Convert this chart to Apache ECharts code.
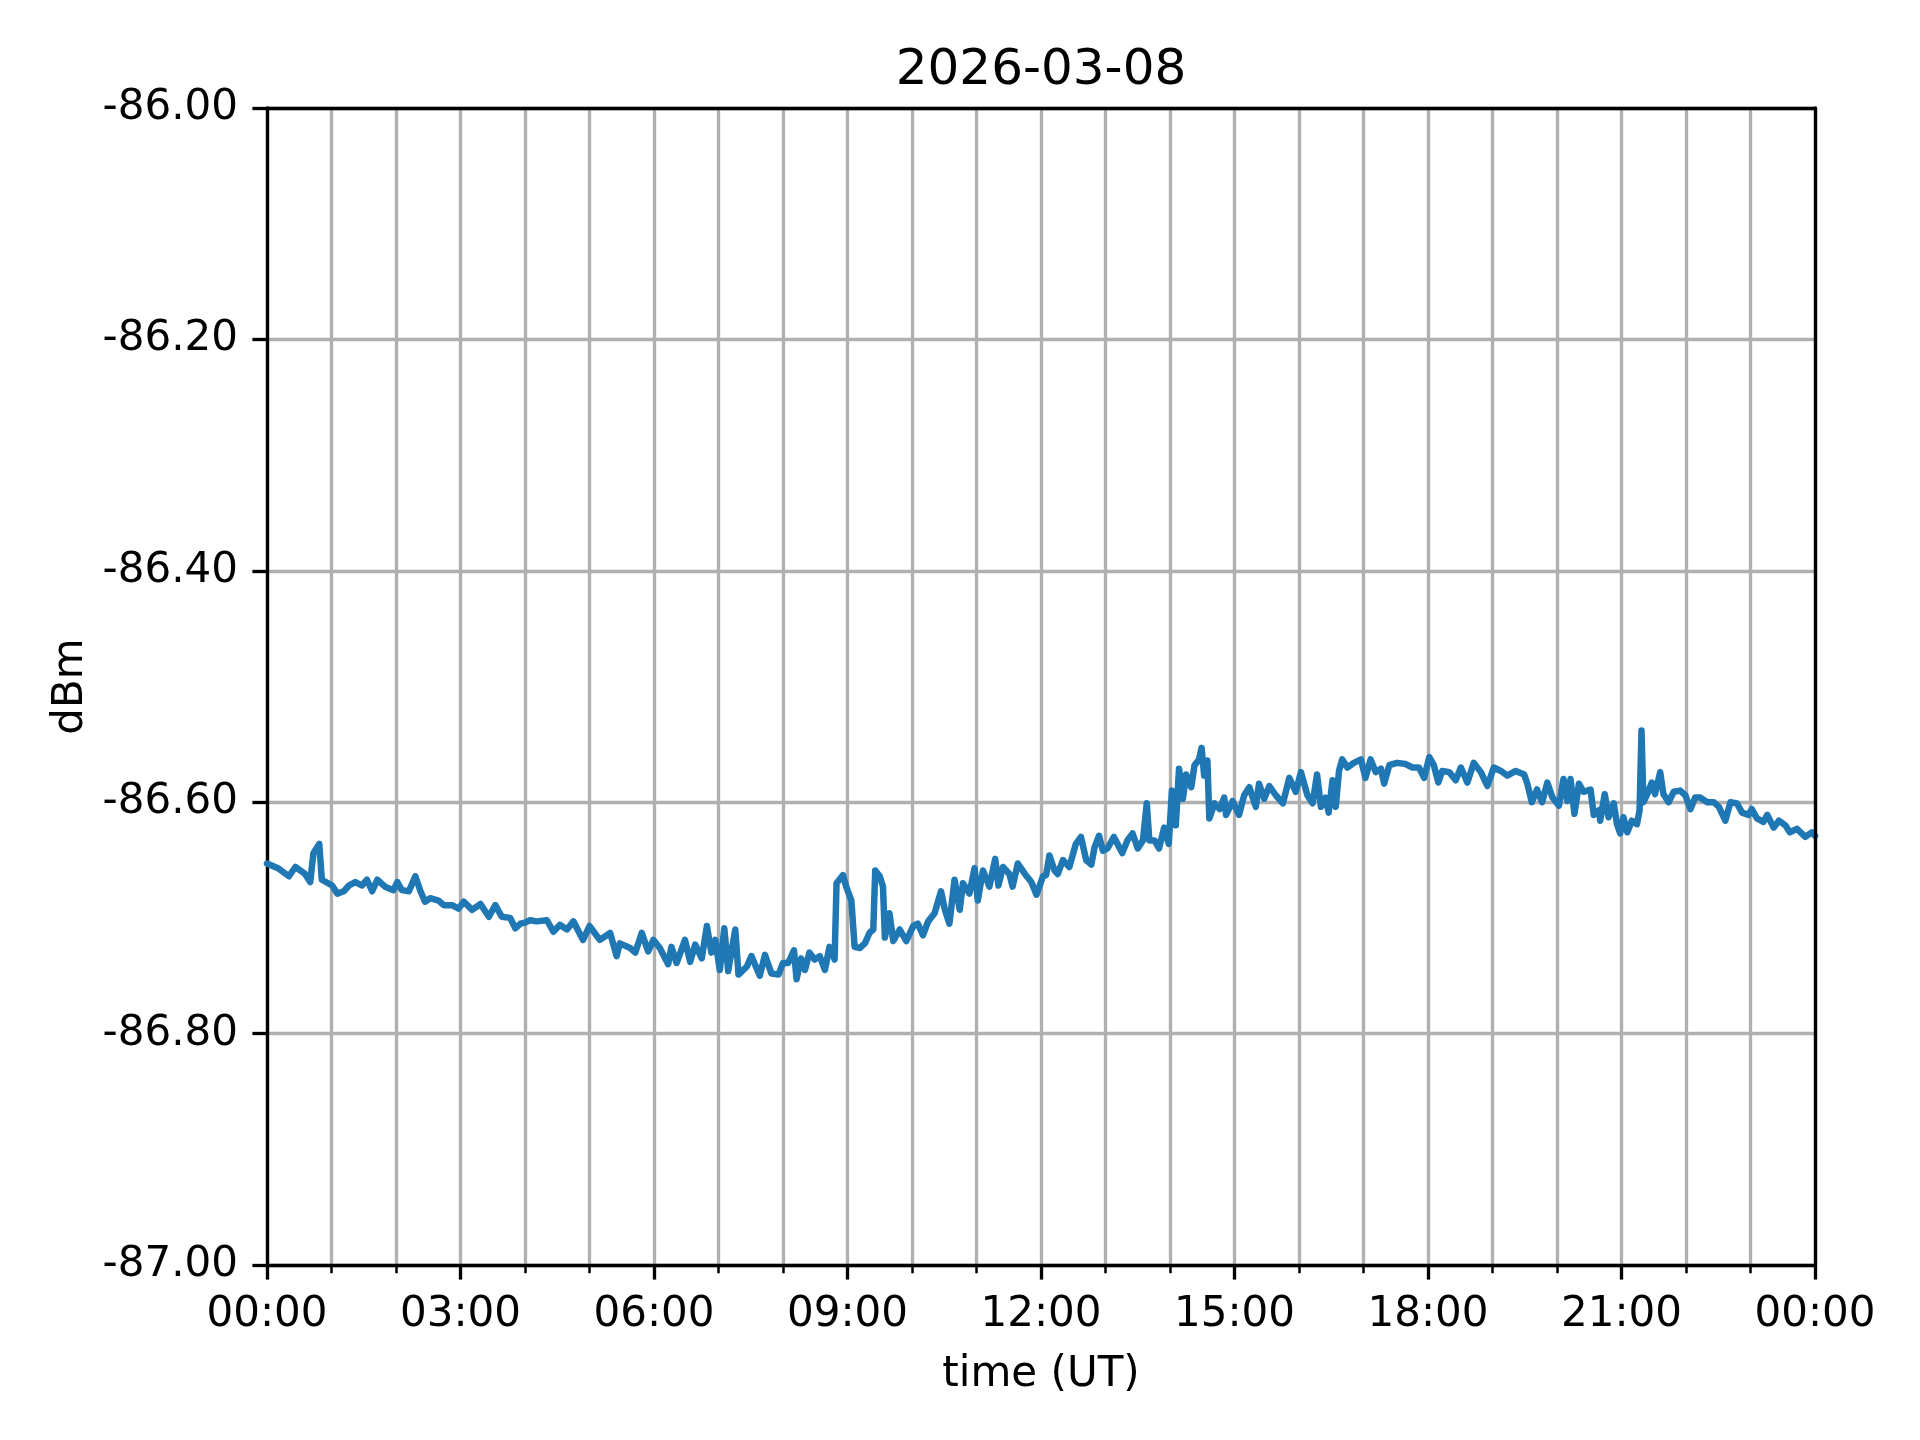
<!DOCTYPE html>
<html>
<head>
<meta charset="utf-8">
<script src="https://cdn.jsdelivr.net/npm/echarts@6/dist/echarts.min.js"></script>
<style>html,body{margin:0;padding:0;background:#fff}#c{width:1920px;height:1440px}</style>
</head>
<body>
<div id="c"></div>
<script>
const chartTitle = '2026-03-08';
const xName = 'time (UT)';
const yName = 'dBm';
const xTickLabels = ['00:00','03:00','06:00','09:00','12:00','15:00','18:00','21:00','00:00'];
const timeHours = [
0.00,0.17,0.34,0.44,0.59,0.67,0.72,0.81,0.85,1.01,1.09,1.19,1.27,1.37,1.47,1.55,1.63,1.71,1.83,1.96,
2.02,2.09,2.20,2.30,2.38,2.45,2.53,2.66,2.74,2.87,2.97,3.05,3.18,3.31,3.44,3.54,3.64,3.77,3.85,3.93,
4.00,4.08,4.18,4.34,4.44,4.54,4.65,4.75,4.90,5.00,5.16,5.32,5.42,5.47,5.63,5.71,5.81,5.91,5.99,
6.09,6.22,6.27,6.35,6.48,6.56,6.64,6.74,6.82,6.89,6.95,7.02,7.09,7.15,7.26,7.31,7.44,7.51,7.64,7.72,7.82,7.93,
8.00,8.08,8.17,8.21,8.28,8.34,8.41,8.49,8.57,8.65,8.72,8.80,8.83,8.93,8.98,9.06,9.11,9.19,9.27,9.34,9.40,
9.43,9.50,9.55,9.58,9.65,9.71,9.81,9.91,10.02,10.09,10.17,10.25,10.35,10.45,10.51,10.58,10.66,10.74,10.79,
10.89,10.97,11.02,11.10,11.20,11.29,11.34,11.41,11.51,11.56,11.64,11.75,11.85,11.93,12.03,12.08,12.13,12.21,
12.26,12.34,12.44,12.54,12.62,12.70,12.78,12.83,12.90,12.96,13.03,13.13,13.26,13.34,13.42,13.50,13.58,13.64,
13.68,13.76,13.83,13.91,13.98,14.03,14.09,14.14,14.20,14.25,14.33,14.38,14.45,14.49,14.53,14.58,14.61,14.69,
14.77,14.84,14.87,14.97,15.07,15.15,15.23,15.33,15.38,15.46,15.54,15.64,15.75,15.85,15.95,16.03,16.13,16.21,
16.28,16.34,16.41,16.46,16.52,16.57,16.62,16.67,16.75,16.85,16.96,17.03,17.11,17.19,17.27,17.32,17.40,17.52,
17.65,17.76,17.86,17.94,18.02,18.09,18.16,18.22,18.33,18.43,18.51,18.61,18.71,18.82,18.92,19.02,19.13,19.23,
19.36,19.49,19.54,19.61,19.69,19.77,19.85,19.93,20.03,20.10,20.16,20.21,20.27,20.34,20.41,20.52,20.57,20.65,
20.67,20.74,20.80,20.88,20.93,20.98,21.03,21.09,21.16,21.24,21.28,21.31,21.34,21.40,21.47,21.52,21.60,21.65,
21.73,21.81,21.91,21.99,22.07,22.14,22.22,22.33,22.43,22.51,22.61,22.69,22.79,22.87,22.97,23.02,23.10,23.20,
23.26,23.36,23.44,23.54,23.61,23.72,23.85,23.95,24.00
];
const dBm = [
-86.653,-86.657,-86.664,-86.656,-86.662,-86.669,-86.644,-86.636,-86.667,-86.672,-86.679,-86.677,-86.672,-86.669,-86.672,-86.667,-86.677,-86.667,-86.673,-86.676,
-86.669,-86.676,-86.677,-86.664,-86.677,-86.686,-86.683,-86.685,-86.689,-86.689,-86.692,-86.686,-86.693,-86.688,-86.699,-86.689,-86.699,-86.700,-86.709,-86.705,
-86.704,-86.702,-86.703,-86.702,-86.712,-86.706,-86.710,-86.703,-86.719,-86.707,-86.719,-86.713,-86.733,-86.722,-86.726,-86.730,-86.713,-86.729,-86.719,
-86.726,-86.740,-86.725,-86.739,-86.719,-86.738,-86.723,-86.735,-86.707,-86.730,-86.719,-86.745,-86.709,-86.746,-86.710,-86.749,-86.742,-86.733,-86.750,-86.732,-86.748,-86.749,
-86.739,-86.739,-86.728,-86.753,-86.735,-86.745,-86.730,-86.736,-86.733,-86.745,-86.725,-86.736,-86.670,-86.663,-86.673,-86.685,-86.725,-86.726,-86.722,-86.713,-86.710,
-86.659,-86.664,-86.673,-86.717,-86.696,-86.720,-86.710,-86.720,-86.707,-86.705,-86.715,-86.703,-86.696,-86.677,-86.693,-86.705,-86.667,-86.693,-86.670,
-86.679,-86.657,-86.685,-86.659,-86.673,-86.649,-86.672,-86.656,-86.662,-86.673,-86.653,-86.662,-86.669,-86.680,-86.664,-86.663,-86.646,-86.659,
-86.662,-86.650,-86.656,-86.636,-86.630,-86.650,-86.654,-86.639,-86.629,-86.642,-86.640,-86.630,-86.644,-86.633,-86.627,-86.640,-86.633,-86.601,
-86.633,-86.633,-86.640,-86.622,-86.636,-86.590,-86.620,-86.571,-86.597,-86.576,-86.587,-86.568,-86.563,-86.553,-86.577,-86.564,-86.614,-86.601,
-86.606,-86.596,-86.611,-86.599,-86.611,-86.594,-86.587,-86.604,-86.584,-86.597,-86.586,-86.594,-86.601,-86.579,-86.591,-86.574,-86.594,-86.601,
-86.576,-86.604,-86.596,-86.609,-86.581,-86.604,-86.573,-86.563,-86.570,-86.566,-86.563,-86.579,-86.563,-86.574,-86.571,-86.584,-86.568,-86.566,
-86.567,-86.570,-86.570,-86.579,-86.561,-86.568,-86.583,-86.573,-86.574,-86.581,-86.570,-86.583,-86.566,-86.574,-86.586,-86.570,-86.573,-86.577,
-86.573,-86.576,-86.584,-86.600,-86.589,-86.600,-86.583,-86.596,-86.603,-86.580,-86.599,-86.580,-86.610,-86.584,-86.591,-86.589,-86.611,-86.607,
-86.616,-86.593,-86.613,-86.601,-86.619,-86.627,-86.613,-86.626,-86.616,-86.619,-86.607,-86.538,-86.600,-86.593,-86.583,-86.593,-86.574,-86.593,
-86.600,-86.591,-86.590,-86.594,-86.606,-86.596,-86.596,-86.600,-86.600,-86.604,-86.616,-86.600,-86.601,-86.609,-86.611,-86.606,-86.614,-86.617,
-86.611,-86.622,-86.616,-86.620,-86.626,-86.623,-86.630,-86.626,-86.629
];

const FONT = 'DejaVu Sans';
const chart = echarts.init(document.getElementById('c'), null, {renderer: 'canvas'});
const seriesData = timeHours.map((t, i) => [t, dBm[i]]);
const gridColor = '#b0b0b0';
const spineW = 3.33;
const option = {
  animation: false,
  backgroundColor: '#ffffff',
  title: {
    text: chartTitle,
    left: 1036,
    top: 41,
    textAlign: 'center',
    textStyle: {fontFamily: FONT, fontSize: 50, fontWeight: 'normal', color: '#000'}
  },
  grid: {
    left: 267, right: 105, top: 108, bottom: 175
  },
  xAxis: [{
    type: 'value', min: 0, max: 24, interval: 3,
    name: xName, nameLocation: 'middle', nameGap: 89,
    nameTextStyle: {fontFamily: FONT, fontSize: 42, color: '#000'},
    axisLine: {show: true, lineStyle: {color: '#000', width: spineW}},
    axisTick: {show: true, inside: false, length: 14.6, lineStyle: {color: '#000', width: spineW}},
    minorTick: {show: true, splitNumber: 3, length: 8.3, lineStyle: {color: '#000', width: 2.5}},
    splitLine: {show: true, lineStyle: {color: gridColor, width: spineW}},
    minorSplitLine: {show: true, lineStyle: {color: gridColor, width: spineW}},
    axisLabel: {
      margin: 29, fontFamily: FONT, fontSize: 42, color: '#000',
      formatter: v => xTickLabels[Math.round(v / 3)]
    },
    z: 2
  }, {
    type: 'value', min: 0, max: 24, interval: 3, position: 'top',
    axisLine: {show: true, onZero: false, lineStyle: {color: '#000', width: spineW}},
    axisTick: {show: false}, axisLabel: {show: false}, splitLine: {show: false},
    z: 5
  }],
  yAxis: [{
    type: 'value', min: -87, max: -86, interval: 0.2,
    name: yName, nameLocation: 'middle', nameGap: 175, nameRotate: 90,
    nameTextStyle: {fontFamily: FONT, fontSize: 42, color: '#000'},
    axisLine: {show: true, lineStyle: {color: '#000', width: spineW}},
    axisTick: {show: true, inside: false, length: 14.6, lineStyle: {color: '#000', width: spineW}},
    splitLine: {show: true, lineStyle: {color: gridColor, width: spineW}},
    axisLabel: {
      margin: 29, fontFamily: FONT, fontSize: 42, color: '#000',
      formatter: v => v.toFixed(2)
    },
    z: 2
  }, {
    type: 'value', min: -87, max: -86, interval: 0.2, position: 'right',
    axisLine: {show: true, onZero: false, lineStyle: {color: '#000', width: spineW}},
    axisTick: {show: false}, axisLabel: {show: false}, splitLine: {show: false},
    z: 5
  }],
  series: [{
    type: 'line',
    data: seriesData,
    xAxisIndex: 0, yAxisIndex: 0,
    showSymbol: false,
    symbol: 'none',
    clip: true,
    z: 3,
    lineStyle: {color: '#1f77b4', width: 6.5, join: 'round', cap: 'round'},
    itemStyle: {color: '#1f77b4'}
  }]
};
chart.setOption(option);
</script>
</body>
</html>
